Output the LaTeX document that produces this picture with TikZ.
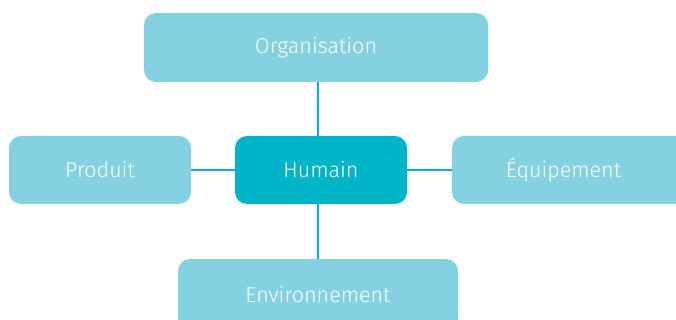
\documentclass[tikz,border=0pt]{standalone}
\usepackage{fontspec}
\setmainfont{Fira Sans Light}
\definecolor{lightbox}{HTML}{84D2E1}
\definecolor{darkbox}{HTML}{00B4C8}
\definecolor{linkcol}{HTML}{00B4CB}
\tikzset{
  box/.style={fill=lightbox, draw=none, rounded corners=12pt, text=white, font=\fontsize{21.5}{24}\selectfont},
  centerbox/.style={box, fill=darkbox},
  link/.style={draw=linkcol, line width=2.2pt}
}
\begin{document}
\begin{tikzpicture}[x=1pt,y=-1pt]
\useasboundingbox (0,0) rectangle (676,320);
\begin{scope}
\clip (0,0) rectangle (676,320);
\node[box, minimum width=344pt, minimum height=69pt] (org) at (316,47.5) {Organisation};
\node[box, minimum width=182pt, minimum height=68pt] (prod) at (100,170) {Produit};
\node[centerbox, minimum width=172pt, minimum height=68pt] (hum) at (321,170) {Humain};
\node[box, minimum width=240pt, minimum height=68pt] (equip) at (572,170) {\hspace*{-17pt}Équipement};
\node[box, minimum width=280pt, minimum height=72pt] (env) at (318,295) {Environnement};
\end{scope}
\draw[link] (318,82) -- (318,136);
\draw[link] (318,204) -- (318,259);
\draw[link] (prod.east) -- (hum.west);
\draw[link] (hum.east) -- (equip.west);
\end{tikzpicture}
\end{document}
